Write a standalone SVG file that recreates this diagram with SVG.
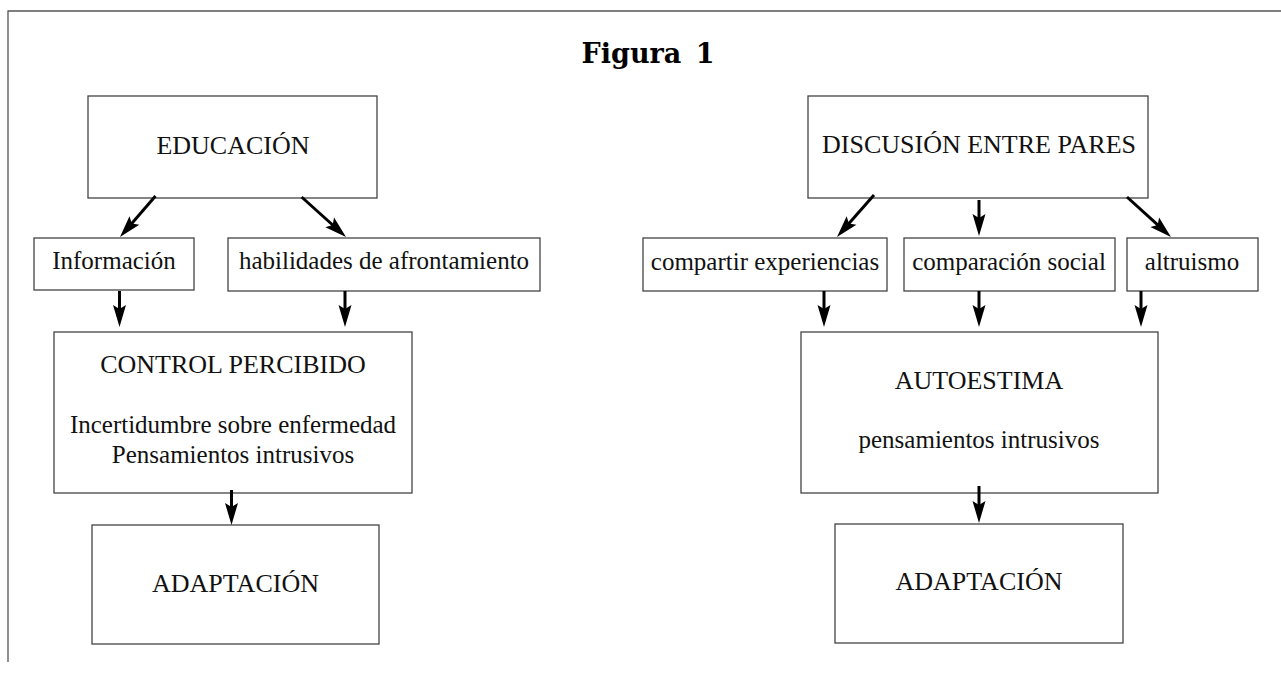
<svg xmlns="http://www.w3.org/2000/svg" width="1281" height="682" viewBox="0 0 1281 682">
<style>
.box{fill:#fff;stroke:#444;stroke-width:1.3}
.cap{font-family:"Liberation Serif",serif;font-size:26px;fill:#111;text-anchor:middle}
.lc{font-family:"Liberation Serif",serif;font-size:25px;fill:#111;text-anchor:middle}
.title{font-family:"DejaVu Serif",serif;font-weight:bold;font-size:27px;fill:#000;text-anchor:middle;word-spacing:5px}
.arr{stroke:#000;stroke-width:3;fill:none;marker-end:url(#ah)}
.frame{stroke:#555;stroke-width:1.3;fill:none}
</style>
<defs>
<marker id="ah" markerUnits="userSpaceOnUse" viewBox="-24 -8 26 16" markerWidth="26" markerHeight="16" refX="-15" refY="0" orient="auto" overflow="visible">
<path d="M0,0 L-22,-6.5 L-18,0 L-22,6.5 Z" fill="#000"/>
</marker>
</defs>
<rect width="1281" height="682" fill="#fff"/>
<path class="frame" d="M8,662 L8,11 L1281,11"/>
<text class="title" x="648" y="63">Figura 1</text>

<g id="educacion"><rect class="box" x="88" y="96" width="289" height="102"/><text class="cap" x="233" y="154">EDUCACIÓN</text></g>
<g id="discusion"><rect class="box" x="808" y="96" width="340" height="102"/><text class="cap" x="979" y="153">DISCUSIÓN ENTRE PARES</text></g>
<g id="informacion"><rect class="box" x="34" y="238" width="160" height="52"/><text class="lc" x="114" y="269">Información</text></g>
<g id="habilidades"><rect class="box" x="228" y="238" width="312" height="53"/><text class="lc" x="384" y="269">habilidades de afrontamiento</text></g>
<g id="compartir"><rect class="box" x="643" y="238" width="244" height="53"/><text class="lc" x="765" y="270">compartir experiencias</text></g>
<g id="comparacion"><rect class="box" x="904" y="238" width="211" height="53"/><text class="lc" x="1009" y="270">comparación social</text></g>
<g id="altruismo"><rect class="box" x="1127" y="238" width="131" height="53"/><text class="lc" x="1192" y="270">altruismo</text></g>
<g id="control"><rect class="box" x="54" y="332" width="358" height="161"/><text class="cap" x="233" y="373">CONTROL PERCIBIDO</text><text class="lc" x="233" y="433">Incertidumbre sobre enfermedad</text><text class="lc" x="233" y="463">Pensamientos intrusivos</text></g>
<g id="autoestima"><rect class="box" x="801" y="332" width="357" height="161"/><text class="cap" x="979" y="389">AUTOESTIMA</text><text class="lc" x="979" y="448">pensamientos intrusivos</text></g>
<g id="adaptacion1"><rect class="box" x="92" y="525" width="287" height="119"/><text class="cap" x="235.5" y="592">ADAPTACIÓN</text></g>
<g id="adaptacion2"><rect class="box" x="835" y="524" width="288" height="119"/><text class="cap" x="979" y="589.5">ADAPTACIÓN</text></g>

<g id="connectors">
<line class="arr" x1="155.5" y1="196" x2="129.8" y2="225.7"/>
<line class="arr" x1="301.6" y1="197" x2="334.9" y2="227"/>
<line class="arr" x1="119.5" y1="291" x2="119.5" y2="312"/>
<line class="arr" x1="345" y1="291" x2="345" y2="312"/>
<line class="arr" x1="231.5" y1="490" x2="231.5" y2="510"/>
<line class="arr" x1="874" y1="195" x2="846.9" y2="225.75"/>
<line class="arr" x1="979" y1="200" x2="979" y2="221"/>
<line class="arr" x1="1127" y1="197" x2="1159.9" y2="226.9"/>
<line class="arr" x1="824" y1="291" x2="824" y2="312"/>
<line class="arr" x1="979" y1="291" x2="979" y2="312"/>
<line class="arr" x1="1141" y1="291" x2="1141" y2="312"/>
<line class="arr" x1="979" y1="486" x2="979" y2="508"/>
</g>
</svg>
